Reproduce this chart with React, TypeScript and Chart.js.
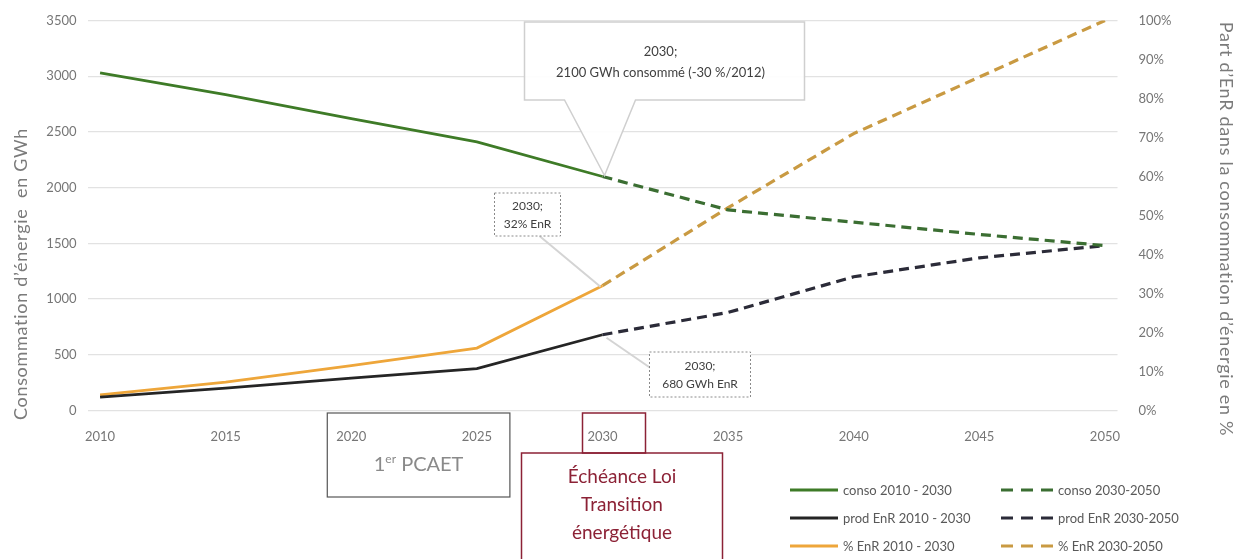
import React, { useEffect, useRef } from "react";
import { Chart, registerables } from "chart.js";

Chart.register(...registerables);

// ---- data ----
const yearsSolid = [2010, 2015, 2020, 2025, 2030];
const yearsDashed = [2030, 2035, 2040, 2045, 2050];
const consoSolid = [3030, 2835, 2620, 2410, 2100];
const consoDashed = [2100, 1800, 1690, 1580, 1480];
const prodSolid = [120, 200, 290, 375, 680];
const prodDashed = [680, 880, 1200, 1370, 1480];
const enrSolid = [0.04, 0.073, 0.115, 0.16, 0.32];
const enrDashed = [0.32, 0.52, 0.71, 0.855, 1.0];
const xTicks = [2010, 2015, 2020, 2025, 2030, 2035, 2040, 2045, 2050];
const leftTicks = [0, 500, 1000, 1500, 2000, 2500, 3000, 3500];
const rightTicks = [0, 0.1, 0.2, 0.3, 0.4, 0.5, 0.6, 0.7, 0.8, 0.9, 1.0];
const seriesLabels = [
  "conso 2010 - 2030",
  "conso 2030-2050",
  "prod EnR 2010 - 2030",
  "prod EnR 2030-2050",
  "% EnR 2010 - 2030",
  "% EnR 2030-2050",
];
const leftTitle = "Consommation d’énergie  en GWh";
const rightTitle = "Part d’EnR dans la consommation d’énergie en %";
const calloutConso = ["2030;", "2100 GWh consommé (-30 %/2012)"];
const calloutEnr = ["2030;", "32% EnR"];
const calloutProd = ["2030;", "680 GWh EnR"];
const pcaetText = "PCAET";
const loiText = ["Échéance Loi", "Transition", "énergétique"];

const FONT = "Lato, 'Open Sans', sans-serif";
const GREEN = "#3e7b27";
const GREEN_D = "#3b6e32";
const BLACK = "#252525";
const BLACK_D = "#2b2b38";
const ORANGE = "#eea63a";
const ORANGE_D = "#c99a42";
const RED = "#8c2236";
const TICK = "#767676";

const pts = (xs: number[], ys: number[]) => xs.map((x, i) => ({ x, y: ys[i] }));

const overlay = {
  id: "overlay",
  afterDraw(chart: any) {
    const ctx: CanvasRenderingContext2D = chart.ctx;
    const xs = chart.scales.x;
    const ys = chart.scales.y;
    const y1 = chart.scales.y1;
    const x2030 = xs.getPixelForValue(2030);
    const x2020 = xs.getPixelForValue(2020);
    const x2025 = xs.getPixelForValue(2025);

    ctx.save();
    // --- callout 1 (conso) ---
    const tip1 = { x: x2030, y: ys.getPixelForValue(consoSolid[consoSolid.length - 1]) };
    const b1 = { l: x2030 - 78, r: x2030 + 202, t: 22, b: 100 };
    ctx.beginPath();
    ctx.moveTo(b1.l, b1.t);
    ctx.lineTo(b1.r, b1.t);
    ctx.lineTo(b1.r, b1.b);
    ctx.lineTo(x2030 + 33, b1.b);
    ctx.lineTo(tip1.x + 2, tip1.y - 1);
    ctx.lineTo(x2030 - 38, b1.b);
    ctx.lineTo(b1.l, b1.b);
    ctx.closePath();
    ctx.fillStyle = "rgba(255,255,255,0.92)";
    ctx.fill();
    ctx.strokeStyle = "#cfcfcf";
    ctx.lineWidth = 1.5;
    ctx.stroke();
    ctx.fillStyle = "#404040";
    ctx.font = `13px ${FONT}`;
    ctx.textAlign = "center";
    ctx.textBaseline = "middle";
    const c1 = (b1.l + b1.r) / 2 - 4;
    ctx.fillText(calloutConso[0], c1, 52);
    ctx.fillText(calloutConso[1], c1, 73);

    // --- callout 2 (% EnR) ---
    const tip2 = { x: x2030, y: y1.getPixelForValue(enrSolid[enrSolid.length - 1]) };
    const b2 = { l: x2030 - 108, r: x2030 - 42, t: 193, b: 236 };
    ctx.strokeStyle = "#d4d4d4";
    ctx.lineWidth = 2;
    ctx.beginPath();
    ctx.moveTo(b2.l + 45, b2.b);
    ctx.lineTo(tip2.x - 2, tip2.y + 1);
    ctx.stroke();
    ctx.fillStyle = "#ffffff";
    ctx.fillRect(b2.l, b2.t, b2.r - b2.l, b2.b - b2.t);
    ctx.setLineDash([2, 2]);
    ctx.strokeStyle = "#8a8a8a";
    ctx.lineWidth = 1;
    ctx.strokeRect(b2.l, b2.t, b2.r - b2.l, b2.b - b2.t);
    ctx.setLineDash([]);
    ctx.fillStyle = "#404040";
    ctx.font = `12px ${FONT}`;
    ctx.fillText(calloutEnr[0], (b2.l + b2.r) / 2, 206);
    ctx.fillText(calloutEnr[1], (b2.l + b2.r) / 2, 224);

    // --- callout 3 (prod) ---
    const tip3 = { x: x2030, y: ys.getPixelForValue(prodSolid[prodSolid.length - 1]) };
    const b3 = { l: x2030 + 47, r: x2030 + 148, t: 352, b: 397 };
    ctx.strokeStyle = "#d4d4d4";
    ctx.lineWidth = 2;
    ctx.beginPath();
    ctx.moveTo(tip3.x + 4, tip3.y + 3);
    ctx.lineTo(b3.l + 1, b3.t + 16);
    ctx.stroke();
    ctx.fillStyle = "#ffffff";
    ctx.fillRect(b3.l, b3.t, b3.r - b3.l, b3.b - b3.t);
    ctx.setLineDash([2, 2]);
    ctx.strokeStyle = "#8a8a8a";
    ctx.lineWidth = 1;
    ctx.strokeRect(b3.l, b3.t, b3.r - b3.l, b3.b - b3.t);
    ctx.setLineDash([]);
    ctx.fillStyle = "#404040";
    ctx.font = `12px ${FONT}`;
    ctx.fillText(calloutProd[0], (b3.l + b3.r) / 2, 366);
    ctx.fillText(calloutProd[1], (b3.l + b3.r) / 2, 384);

    // --- PCAET box ---
    ctx.strokeStyle = "#555555";
    ctx.lineWidth = 1.2;
    ctx.strokeRect(x2020 - 24, 413, x2025 + 33 - (x2020 - 24), 84);
    const cx = (x2020 - 24 + x2025 + 33) / 2;
    ctx.fillStyle = "#8a8a8a";
    ctx.font = `20px ${FONT}`;
    ctx.textAlign = "left";
    const w1 = ctx.measureText("1").width;
    ctx.font = `12px ${FONT}`;
    const wer = ctx.measureText("er").width;
    ctx.font = `20px ${FONT}`;
    const wp = ctx.measureText(" " + pcaetText).width;
    const sx = cx - (w1 + wer + wp) / 2;
    ctx.fillText("1", sx, 465);
    ctx.font = `12px ${FONT}`;
    ctx.fillText("er", sx + w1, 459);
    ctx.font = `20px ${FONT}`;
    ctx.fillText(" " + pcaetText, sx + w1 + wer, 465);

    // --- Loi boxes ---
    ctx.strokeStyle = RED;
    ctx.lineWidth = 1.5;
    ctx.strokeRect(x2030 - 20, 413, 63, 40);
    ctx.strokeRect(x2030 - 81, 453, 201, 110);
    ctx.fillStyle = RED;
    ctx.font = `19px ${FONT}`;
    ctx.textAlign = "center";
    const lc = x2030 - 81 + 100.5;
    ctx.fillText(loiText[0], lc, 477);
    ctx.fillText(loiText[1], lc, 505);
    ctx.fillText(loiText[2], lc, 533);

    // --- axis titles ---
    ctx.fillStyle = "#7b7b7b";
    ctx.font = `18px ${FONT}`;
    (ctx as any).letterSpacing = "0.7px";
    ctx.save();
    ctx.translate(21, 274);
    ctx.rotate(-Math.PI / 2);
    ctx.fillText(leftTitle, 0, 0);
    ctx.restore();
    ctx.save();
    ctx.translate(1226, 229);
    ctx.rotate(Math.PI / 2);
    ctx.fillText(rightTitle, 0, 0);
    ctx.restore();
    (ctx as any).letterSpacing = "0px";

    // --- legend ---
    const ds = chart.data.datasets;
    const order = [0, 2, 4, 1, 3, 5];
    ctx.font = `13px ${FONT}`;
    ctx.textAlign = "left";
    order.forEach((di: number, k: number) => {
      const d = ds[di];
      const col = k < 3 ? 0 : 1;
      const row = k % 3;
      const lx = col === 0 ? 790 : 1001;
      const len = col === 0 ? 48 : 52;
      const ly = 490 + row * 28;
      ctx.strokeStyle = d.borderColor;
      ctx.lineWidth = 3;
      ctx.setLineDash(col === 0 ? [] : [12, 8]);
      ctx.beginPath();
      ctx.moveTo(lx, ly);
      ctx.lineTo(lx + len, ly);
      ctx.stroke();
      ctx.setLineDash([]);
      ctx.fillStyle = "#595959";
      ctx.fillText(d.label, lx + len + 5, ly + 1);
    });
    ctx.restore();
  },
};

export default function App() {
  const ref = useRef<HTMLCanvasElement | null>(null);
  useEffect(() => {
    if (!ref.current) return;
    const mk = (i: number, xs: number[], ys: number[], color: string, dashed: boolean, axis: string) => ({
      label: seriesLabels[i],
      data: pts(xs, ys),
      borderColor: color,
      backgroundColor: color,
      borderWidth: dashed ? 3.2 : 2.8,
      borderDash: dashed ? [10, 6] : [],
      pointRadius: 0,
      tension: 0,
      yAxisID: axis,
    });
    const chart = new Chart(ref.current, {
      type: "line",
      data: {
        datasets: [
          mk(0, yearsSolid, consoSolid, GREEN, false, "y"),
          mk(1, yearsDashed, consoDashed, GREEN_D, true, "y"),
          mk(2, yearsSolid, prodSolid, BLACK, false, "y"),
          mk(3, yearsDashed, prodDashed, BLACK_D, true, "y"),
          mk(4, yearsSolid, enrSolid, ORANGE, false, "y1"),
          mk(5, yearsDashed, enrDashed, ORANGE_D, true, "y1"),
        ] as any,
      },
      options: {
        animation: false,
        responsive: false,
        devicePixelRatio: 1,
        layout: { padding: { top: 20.5, left: 0, right: 0, bottom: 0 } },
        plugins: { legend: { display: false }, tooltip: { enabled: false } },
        scales: {
          x: {
            type: "linear",
            min: 2009.5,
            max: 2050.5,
            afterBuildTicks: (s: any) => {
              s.ticks = xTicks.map((v) => ({ value: v }));
            },
            afterFit: (s: any) => {
              s.height = 148.5;
              s.paddingLeft = 0;
              s.paddingRight = 0;
            },
            grid: { display: false, drawTicks: false },
            border: { display: false },
            ticks: {
              autoSkip: false,
              maxRotation: 0,
              padding: 19,
              color: TICK,
              font: { family: FONT, size: 13 },
              callback: (v: any) => String(v),
            },
          },
          y: {
            position: "left",
            min: 0,
            max: 3500,
            afterBuildTicks: (s: any) => {
              s.ticks = leftTicks.map((v) => ({ value: v }));
            },
            afterFit: (s: any) => {
              s.width = 87.5;
              s.paddingTop = 0;
              s.paddingBottom = 0;
            },
            grid: { color: "#e2e2e2", lineWidth: 1.2, drawTicks: false },
            border: { display: false },
            ticks: {
              padding: 11,
              color: TICK,
              font: { family: FONT, size: 13 },
              callback: (v: any) => String(v),
            },
          },
          y1: {
            position: "right",
            min: 0,
            max: 1,
            afterBuildTicks: (s: any) => {
              s.ticks = rightTicks.map((v) => ({ value: v }));
            },
            afterFit: (s: any) => {
              s.width = 121.5;
              s.paddingTop = 0;
              s.paddingBottom = 0;
            },
            grid: { display: false, drawTicks: false },
            border: { display: false },
            ticks: {
              padding: 21,
              color: TICK,
              font: { family: FONT, size: 13 },
              callback: (v: any) => Math.round(Number(v) * 100) + "%",
            },
          },
        },
      } as any,
      plugins: [overlay],
    });
    return () => chart.destroy();
  }, []);
  return (
    <div style={{ position: "fixed", left: 0, top: 0, width: 1239, height: 559, background: "#ffffff" }}>
      <canvas ref={ref} width={1239} height={559} style={{ width: 1239, height: 559, display: "block" }} />
    </div>
  );
}
